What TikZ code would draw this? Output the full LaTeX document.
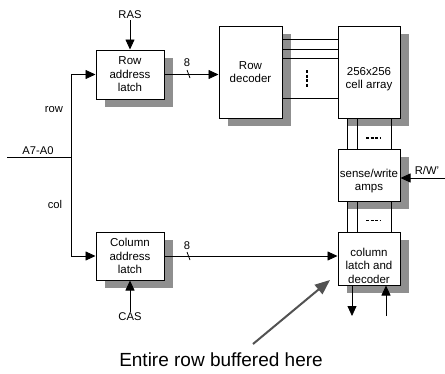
\documentclass[tikz,border=0pt]{standalone}
\usepackage{fontspec}
\setmainfont{Liberation Sans}
\usetikzlibrary{arrows.meta,shadows,calc}

\tikzset{
  block/.style={draw, line width=1pt, fill=white, align=center, inner sep=0pt,
    font=\fontsize{11.5}{13.5}\selectfont,
    drop shadow={shadow xshift=9pt, shadow yshift=-8pt, fill=black!44, opacity=1}},
  boxtext/.style={align=center, inner sep=0pt, font=\fontsize{11.5}{13.5}\selectfont},
  lbl/.style={inner sep=1pt, font=\fontsize{11.2}{13}\selectfont},
  wire/.style={line width=0.8pt},
  sig/.style={wire, -{Triangle[length=10pt,width=9pt]}},
  gap/.style={line width=1.6pt, dash pattern=on 3pt off 1.5pt},
}

\begin{document}
\begin{tikzpicture}[x=1pt, y=-1pt]
    \useasboundingbox (0,0) rectangle (445,373);

    % --- Blocks ---
    \node[block, minimum width=68pt, minimum height=49pt] (ral) at (130,74.5) {Row\\address\\latch};
    \node[block, minimum width=68pt, minimum height=48pt] (cal) at (130,256) {Column\\address\\latch};
    \node[block, minimum width=63pt, minimum height=92pt] (rdec) at (250.5,72) {Row\\decoder};
    \node[block, minimum width=62pt, minimum height=92pt,
      label={[boxtext, yshift=-7pt]center:256x256\\cell array}] (arr) at (369,72) {};
    \node[block, minimum width=62pt, minimum height=52pt,
      label={[boxtext, yshift=-6pt]center:sense/write\\amps}] (amps) at (369,175) {};
    \node[block, minimum width=62pt, minimum height=53pt,
      label={[boxtext, yshift=-7pt]center:column\\latch and\\decoder}] (cdec) at (369,258.5) {};

    % --- Address bus ---
    \coordinate (ain) at (7,157);
    \coordinate (split) at (71,157);
    \node[lbl] (abus) at (38,150.5) {A7-A0};
    \node[lbl] (rowlbl) at (54,110) {row};
    \node[lbl] (collbl) at (55,204) {col};
    \draw[wire] (ain) -- (split);
    \draw[sig] (split) |- (ral.west);
    \draw[sig] (split) |- (cal.west);

    % --- Strobes ---
    \node[lbl] (ras) at (130,15) {RAS};
    \node[lbl] (cas) at (130,317) {CAS};
    \draw[sig] (ras.south) -- (ral.north);
    \draw[sig] (cas.north) -- (cal.south);

    % --- 8-bit links ---
    \draw[sig] (ral.east) -- (ral.east -| rdec.west);
    \draw[sig] (cal.east) -- (cal.east -| cdec.west);
    \node[lbl] (rbits) at (187,62.5) {8};
    \node[lbl] (cbits) at (187,246) {8};
    \draw[wire] (187,70) -- (190,78);
    \draw[wire] (187,252) -- (190,260);

    % --- Word lines ---
    \foreach \yy in {39,49,58,98}
      \draw[wire] (rdec.east |- 0,\yy) -- (arr.west |- 0,\yy);
    \draw[gap] (307,70) -- (307,87);

    % --- Bit lines ---
    \foreach \xx in {347,357,391} {
      \draw[wire] (arr.south -| \xx,0) -- (amps.north -| \xx,0);
      \draw[wire] (amps.south -| \xx,0) -- (cdec.north -| \xx,0);
    }
    \draw[gap] (366,138) -- (381,138);
    \draw[gap] (366,220.5) -- (381,220.5);

    % --- R/W' and data ---
    \coordinate (rwin) at (445,178);
    \node[lbl] (rw) at (427,170) {R/W'};
    \draw[sig] (rwin) -- (rwin -| amps.east);
    \coordinate (dout) at (352,316);
    \coordinate (din) at (386,316);
    \draw[sig] (cdec.south -| dout) -- (dout);
    \draw[sig] (din) -- (cdec.south -| din);

    % --- Note ---
    \node[inner sep=0pt, font=\fontsize{19}{22}\selectfont] (note) at (221,360) {Entire row buffered here};
    \coordinate (ptr) at (253,344);
    \coordinate (ptrtip) at (330,280);
    \draw[line width=2pt, black!68, -{Triangle[length=15pt,width=12pt]}] (ptr) -- (ptrtip);

\end{tikzpicture}
\end{document}
